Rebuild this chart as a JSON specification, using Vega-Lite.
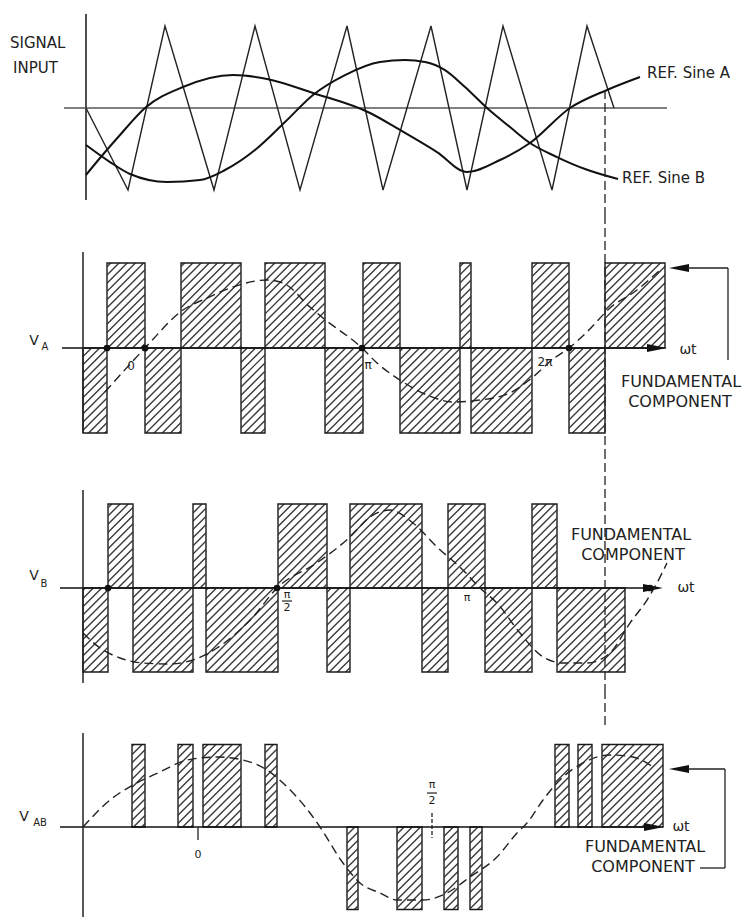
{
"$schema":"https://vega.github.io/schema/vega-lite/v6.json",
"padding":0,
"spacing":0,
"bounds":"flush",
"background":"white",
"config":{"view":{"stroke":null},"axis":{"disable":true},"font":"DejaVu Sans"},
"datasets":{
"carrier":[{"t":86,"s":0},{"t":128,"s":-1},{"t":165,"s":1},{"t":214,"s":-1},{"t":255,"s":1},{"t":300,"s":-1},{"t":347,"s":1},{"t":383,"s":-1},{"t":431,"s":1},{"t":467,"s":-1},{"t":503,"s":1},{"t":552,"s":-1},{"t":587,"s":1},{"t":614,"s":0}],
"refs":[
{"ref":"A","t":86,"s":-0.817},{"ref":"A","t":100,"s":-0.61},{"ref":"A","t":120,"s":-0.329},{"ref":"A","t":145,"s":0},{"ref":"A","t":183,"s":0.256},{"ref":"A","t":233,"s":0.402},{"ref":"A","t":267,"s":0.354},{"ref":"A","t":313,"s":0.183},{"ref":"A","t":370,"s":-0.061},{"ref":"A","t":400,"s":-0.268},{"ref":"A","t":437,"s":-0.537},{"ref":"A","t":467,"s":-0.78},{"ref":"A","t":500,"s":-0.634},{"ref":"A","t":530,"s":-0.427},{"ref":"A","t":570,"s":0},{"ref":"A","t":607,"s":0.22},{"ref":"A","t":640,"s":0.378},
{"ref":"B","t":86,"s":-0.451},{"ref":"B","t":110,"s":-0.659},{"ref":"B","t":130,"s":-0.805},{"ref":"B","t":167,"s":-0.902},{"ref":"B","t":200,"s":-0.878},{"ref":"B","t":225,"s":-0.756},{"ref":"B","t":255,"s":-0.512},{"ref":"B","t":285,"s":-0.171},{"ref":"B","t":313,"s":0.159},{"ref":"B","t":345,"s":0.402},{"ref":"B","t":380,"s":0.561},{"ref":"B","t":405,"s":0.585},{"ref":"B","t":425,"s":0.561},{"ref":"B","t":445,"s":0.463},{"ref":"B","t":465,"s":0.256},{"ref":"B","t":487,"s":0},{"ref":"B","t":510,"s":-0.232},{"ref":"B","t":530,"s":-0.427},{"ref":"B","t":557,"s":-0.598},{"ref":"B","t":585,"s":-0.744},{"ref":"B","t":618,"s":-0.866}],
"lab1":[{"t":10,"s":0.793,"txt":"SIGNAL"},{"t":13,"s":0.488,"txt":"INPUT"},{"t":647,"s":0.427,"txt":"REF. Sine A"},{"t":622,"s":-0.854,"txt":"REF. Sine B"}],
"va":[{"t1":83,"t2":107,"v":-1},{"t1":107,"t2":145,"v":1},{"t1":145,"t2":181,"v":-1},{"t1":181,"t2":241,"v":1},{"t1":241,"t2":265,"v":-1},{"t1":265,"t2":325,"v":1},{"t1":325,"t2":363,"v":-1},{"t1":363,"t2":400,"v":1},{"t1":400,"t2":460,"v":-1},{"t1":460,"t2":471,"v":1},{"t1":471,"t2":532,"v":-1},{"t1":532,"t2":569,"v":1},{"t1":569,"t2":605,"v":-1},{"t1":605,"t2":665,"v":1}],
"vb":[{"t1":83,"t2":108,"v":-1},{"t1":108,"t2":133,"v":1},{"t1":133,"t2":193,"v":-1},{"t1":193,"t2":206,"v":1},{"t1":206,"t2":278,"v":-1},{"t1":278,"t2":327,"v":1},{"t1":327,"t2":350,"v":-1},{"t1":350,"t2":422,"v":1},{"t1":422,"t2":448,"v":-1},{"t1":448,"t2":485,"v":1},{"t1":485,"t2":532,"v":-1},{"t1":532,"t2":557,"v":1},{"t1":557,"t2":625,"v":-1}],
"vab":[{"t1":83,"t2":132,"v":0},{"t1":132,"t2":145,"v":1},{"t1":145,"t2":178,"v":0},{"t1":178,"t2":193,"v":1},{"t1":193,"t2":203,"v":0},{"t1":203,"t2":241,"v":1},{"t1":241,"t2":265,"v":0},{"t1":265,"t2":277,"v":1},{"t1":277,"t2":347,"v":0},{"t1":347,"t2":358,"v":-1},{"t1":358,"t2":397,"v":0},{"t1":397,"t2":422,"v":-1},{"t1":422,"t2":444,"v":0},{"t1":444,"t2":458,"v":-1},{"t1":458,"t2":470,"v":0},{"t1":470,"t2":482,"v":-1},{"t1":482,"t2":555,"v":0},{"t1":555,"t2":569,"v":1},{"t1":569,"t2":578,"v":0},{"t1":578,"t2":592,"v":1},{"t1":592,"t2":602,"v":0},{"t1":602,"t2":663,"v":1}],
"fa":[{"t":105,"s":-0.518},{"t":145,"s":0},{"t":183,"s":0.447},{"t":207,"s":0.588},{"t":233,"s":0.718},{"t":267,"s":0.8},{"t":283,"s":0.765},{"t":310,"s":0.482},{"t":323,"s":0.353},{"t":362,"s":0},{"t":377,"s":-0.176},{"t":403,"s":-0.4},{"t":427,"s":-0.553},{"t":453,"s":-0.635},{"t":480,"s":-0.612},{"t":510,"s":-0.529},{"t":533,"s":-0.341},{"t":553,"s":-0.13},{"t":569,"s":0},{"t":587,"s":0.188},{"t":610,"s":0.471},{"t":637,"s":0.682},{"t":660,"s":0.918}],
"fb":[{"t":83,"s":-0.536},{"t":100,"s":-0.714},{"t":120,"s":-0.833},{"t":143,"s":-0.893},{"t":168,"s":-0.905},{"t":193,"s":-0.857},{"t":217,"s":-0.714},{"t":253,"s":-0.345},{"t":277,"s":0},{"t":317,"s":0.3},{"t":350,"s":0.607},{"t":370,"s":0.845},{"t":390,"s":0.929},{"t":413,"s":0.774},{"t":437,"s":0.488},{"t":463,"s":0.214},{"t":480,"s":0},{"t":497,"s":-0.179},{"t":520,"s":-0.536},{"t":543,"s":-0.821},{"t":563,"s":-0.893},{"t":587,"s":-0.893},{"t":610,"s":-0.774},{"t":630,"s":-0.417},{"t":647,"s":-0.143},{"t":657,"s":0.06},{"t":667,"s":0.298}],
"fab":[{"t":83,"s":0},{"t":110,"s":0.327},{"t":133,"s":0.509},{"t":160,"s":0.667},{"t":187,"s":0.812},{"t":217,"s":0.848},{"t":243,"s":0.812},{"t":267,"s":0.691},{"t":283,"s":0.533},{"t":310,"s":0.17},{"t":320,"s":0},{"t":343,"s":-0.436},{"t":360,"s":-0.679},{"t":380,"s":-0.8},{"t":397,"s":-0.885},{"t":423,"s":-0.885},{"t":447,"s":-0.8},{"t":470,"s":-0.606},{"t":497,"s":-0.364},{"t":517,"s":-0.073},{"t":527,"s":0.048},{"t":543,"s":0.327},{"t":563,"s":0.606},{"t":583,"s":0.776},{"t":610,"s":0.873},{"t":633,"s":0.848},{"t":653,"s":0.727}],
"da":[{"t":107},{"t":145},{"t":362},{"t":569}],
"db":[{"t":108},{"t":277},{"t":650}],
"lab2":[{"t":34,"s":0.082,"txt":"V","k":"n"},{"t":45,"s":0.012,"txt":"A","k":"s"},{"t":131,"s":-0.212,"txt":"0","k":"t"},{"t":368,"s":-0.2,"txt":"π","k":"t"},{"t":545,"s":-0.165,"txt":"2π","k":"t"},{"t":688,"s":-0.024,"txt":"ωt","k":"n"},{"t":681,"s":-0.4,"txt":"FUNDAMENTAL","k":"f"},{"t":680,"s":-0.635,"txt":"COMPONENT","k":"f"}],
"lab3":[{"t":34,"s":0.143,"txt":"V","k":"n"},{"t":44,"s":0.048,"txt":"B","k":"s"},{"t":287,"s":-0.083,"txt":"π","k":"t"},{"t":287,"s":-0.238,"txt":"2","k":"t"},{"t":467,"s":-0.119,"txt":"π","k":"t"},{"t":686,"s":0,"txt":"ωt","k":"n"},{"t":631,"s":0.631,"txt":"FUNDAMENTAL","k":"f"},{"t":633,"s":0.393,"txt":"COMPONENT","k":"f"}],
"lab4":[{"t":24,"s":0.121,"txt":"V","k":"n"},{"t":40,"s":0.048,"txt":"AB","k":"s"},{"t":198,"s":-0.339,"txt":"0","k":"t"},{"t":432,"s":0.509,"txt":"π","k":"t"},{"t":432,"s":0.315,"txt":"2","k":"t"},{"t":681,"s":0,"txt":"ωt","k":"n"},{"t":645,"s":-0.242,"txt":"FUNDAMENTAL","k":"f"},{"t":643,"s":-0.485,"txt":"COMPONENT","k":"f"}]
},
"vconcat":[
{"width":747,"height":215,"layer":[
{"data":{"values":[{}]},"mark":{"type":"rule","color":"#222","strokeWidth":1.6},"encoding":{"x":{"datum":86,"scale":{"domain":[0,747]}},"y":{"datum":1.146,"scale":{"domain":[-1.3049,1.3171]}},"y2":{"datum":-1.122}}},
{"data":{"values":[{}]},"mark":{"type":"rule","color":"#555","strokeWidth":1.4},"encoding":{"x":{"datum":64,"scale":{"domain":[0,747]}},"x2":{"datum":667},"y":{"datum":0,"scale":{"domain":[-1.3049,1.3171]}}}},
{"data":{"name":"carrier"},"mark":{"type":"line","color":"#222","strokeWidth":1.4},"encoding":{"x":{"field":"t","type":"quantitative","scale":{"domain":[0,747]}},"y":{"field":"s","type":"quantitative","scale":{"domain":[-1.3049,1.3171]}}}},
{"data":{"name":"refs"},"mark":{"type":"line","color":"#111","strokeWidth":2,"interpolate":"monotone"},"encoding":{"x":{"field":"t","type":"quantitative","scale":{"domain":[0,747]}},"y":{"field":"s","type":"quantitative","scale":{"domain":[-1.3049,1.3171]}},"detail":{"field":"ref"}}},
{"data":{"values":[{}]},"mark":{"type":"rule","color":"#222","strokeWidth":1.3,"strokeDash":[9,4]},"encoding":{"x":{"datum":605,"scale":{"domain":[0,747]}},"y":{"datum":0.22,"scale":{"domain":[-1.3049,1.3171]}},"y2":{"datum":-1.3049}}},
{"data":{"name":"lab1"},"mark":{"type":"text","align":"left","baseline":"middle","fontSize":15,"color":"#222"},"encoding":{"x":{"field":"t","type":"quantitative","scale":{"domain":[0,747]}},"y":{"field":"s","type":"quantitative","scale":{"domain":[-1.3049,1.3171]}},"text":{"field":"txt"}}}
]},
{"width":747,"height":235,"layer":[
{"data":{"values":[{}]},"mark":{"type":"rule","color":"#3a3a3a","strokeWidth":540,"strokeDash":[1.4,4.4],"strokeCap":"butt","clip":true},"encoding":{"x":{"datum":183,"scale":{"domain":[0,747]}},"x2":{"datum":565},"y":{"datum":2.247,"scale":{"domain":[-1.2,1.5647]}},"y2":{"datum":-2.247}}},
{"data":{"values":[{}]},"mark":{"type":"rect","fillOpacity":0,"stroke":"white","strokeWidth":400,"clip":true},"encoding":{"x":{"datum":-117,"scale":{"domain":[0,747]}},"x2":{"datum":865},"y":{"datum":3.353,"scale":{"domain":[-1.2,1.5647]}},"y2":{"datum":-3.353}}},
{"data":{"name":"va"},"transform":[{"filter":"datum.v >= 0"}],"mark":{"type":"rect","color":"white","stroke":"white","strokeWidth":0.6},"encoding":{"x":{"field":"t1","type":"quantitative","scale":{"domain":[0,747]}},"x2":{"field":"t2"},"y":{"datum":0,"scale":{"domain":[-1.2,1.5647]}},"y2":{"datum":-1.04}}},
{"data":{"name":"va"},"transform":[{"filter":"datum.v <= 0"}],"mark":{"type":"rect","color":"white","stroke":"white","strokeWidth":0.6},"encoding":{"x":{"field":"t1","type":"quantitative","scale":{"domain":[0,747]}},"x2":{"field":"t2"},"y":{"datum":0,"scale":{"domain":[-1.2,1.5647]}},"y2":{"datum":1.04}}},
{"data":{"name":"va"},"transform":[{"filter":"datum.v != 0"}],"mark":{"type":"rect","fillOpacity":0,"stroke":"#1a1a1a","strokeWidth":1.4},"encoding":{"x":{"field":"t1","type":"quantitative","scale":{"domain":[0,747]}},"x2":{"field":"t2"},"y":{"field":"v","type":"quantitative","scale":{"domain":[-1.2,1.5647]}},"y2":{"datum":0}}},
{"data":{"values":[{}]},"mark":{"type":"rule","color":"#111","strokeWidth":1.7},"encoding":{"x":{"datum":62,"scale":{"domain":[0,747]}},"x2":{"datum":660},"y":{"datum":0,"scale":{"domain":[-1.2,1.5647]}}}},
{"data":{"values":[{}]},"mark":{"type":"rule","color":"#222","strokeWidth":1.5},"encoding":{"x":{"datum":83,"scale":{"domain":[0,747]}},"y":{"datum":1.129,"scale":{"domain":[-1.2,1.5647]}},"y2":{"datum":-1}}},
{"data":{"values":[{}]},"mark":{"type":"point","shape":"M-1,-0.4L1,0L-1,0.4Z","filled":true,"size":400,"color":"#111","opacity":1},"encoding":{"x":{"datum":657,"scale":{"domain":[0,747]}},"y":{"datum":0,"scale":{"domain":[-1.2,1.5647]}}}},
{"data":{"name":"fa"},"mark":{"type":"line","color":"#222","strokeWidth":1.4,"strokeDash":[9,5],"interpolate":"monotone"},"encoding":{"x":{"field":"t","type":"quantitative","scale":{"domain":[0,747]}},"y":{"field":"s","type":"quantitative","scale":{"domain":[-1.2,1.5647]}}}},
{"data":{"name":"da"},"mark":{"type":"point","filled":true,"size":45,"color":"#111","opacity":1},"encoding":{"x":{"field":"t","type":"quantitative","scale":{"domain":[0,747]}},"y":{"datum":0,"scale":{"domain":[-1.2,1.5647]}}}},
{"data":{"values":[{}]},"mark":{"type":"rule","color":"#222","strokeWidth":1.3,"strokeDash":[9,4]},"encoding":{"x":{"datum":605,"scale":{"domain":[0,747]}},"y":{"datum":1.5647,"scale":{"domain":[-1.2,1.5647]}},"y2":{"datum":-1.2}}},
{"data":{"values":[{}]},"mark":{"type":"point","shape":"M1,-0.4L-1,0L1,0.4Z","filled":true,"size":400,"color":"#111","opacity":1},"encoding":{"x":{"datum":679,"scale":{"domain":[0,747]}},"y":{"datum":0.941,"scale":{"domain":[-1.2,1.5647]}}}},
{"data":{"values":[{}]},"mark":{"type":"rule","color":"#222","strokeWidth":1.3},"encoding":{"x":{"datum":688,"scale":{"domain":[0,747]}},"x2":{"datum":728},"y":{"datum":0.941,"scale":{"domain":[-1.2,1.5647]}}}},
{"data":{"values":[{}]},"mark":{"type":"rule","color":"#222","strokeWidth":1.3},"encoding":{"x":{"datum":728,"scale":{"domain":[0,747]}},"y":{"datum":0.941,"scale":{"domain":[-1.2,1.5647]}},"y2":{"datum":-0.141}}},
{"data":{"name":"lab2"},"transform":[{"filter":"datum.k == 'n'"}],"mark":{"type":"text","baseline":"middle","fontSize":14,"color":"#222"},"encoding":{"x":{"field":"t","type":"quantitative","scale":{"domain":[0,747]}},"y":{"field":"s","type":"quantitative","scale":{"domain":[-1.2,1.5647]}},"text":{"field":"txt"}}},
{"data":{"name":"lab2"},"transform":[{"filter":"datum.k == 's'"}],"mark":{"type":"text","baseline":"middle","fontSize":10,"color":"#222"},"encoding":{"x":{"field":"t","type":"quantitative","scale":{"domain":[0,747]}},"y":{"field":"s","type":"quantitative","scale":{"domain":[-1.2,1.5647]}},"text":{"field":"txt"}}},
{"data":{"name":"lab2"},"transform":[{"filter":"datum.k == 't'"}],"mark":{"type":"text","baseline":"middle","fontSize":12,"color":"#222"},"encoding":{"x":{"field":"t","type":"quantitative","scale":{"domain":[0,747]}},"y":{"field":"s","type":"quantitative","scale":{"domain":[-1.2,1.5647]}},"text":{"field":"txt"}}},
{"data":{"name":"lab2"},"transform":[{"filter":"datum.k == 'f'"}],"mark":{"type":"text","baseline":"middle","fontSize":16,"color":"#222"},"encoding":{"x":{"field":"t","type":"quantitative","scale":{"domain":[0,747]}},"y":{"field":"s","type":"quantitative","scale":{"domain":[-1.2,1.5647]}},"text":{"field":"txt"}}}
]},
{"width":747,"height":240,"layer":[
{"data":{"values":[{}]},"mark":{"type":"rule","color":"#3a3a3a","strokeWidth":520,"strokeDash":[1.4,4.4],"strokeCap":"butt","clip":true},"encoding":{"x":{"datum":174,"scale":{"domain":[0,747]}},"x2":{"datum":534},"y":{"datum":2.143,"scale":{"domain":[-1.2143,1.6429]}},"y2":{"datum":-2.143}}},
{"data":{"values":[{}]},"mark":{"type":"rect","fillOpacity":0,"stroke":"white","strokeWidth":400,"clip":true},"encoding":{"x":{"datum":-117,"scale":{"domain":[0,747]}},"x2":{"datum":825},"y":{"datum":3.381,"scale":{"domain":[-1.2143,1.6429]}},"y2":{"datum":-3.381}}},
{"data":{"name":"vb"},"transform":[{"filter":"datum.v >= 0"}],"mark":{"type":"rect","color":"white","stroke":"white","strokeWidth":0.6},"encoding":{"x":{"field":"t1","type":"quantitative","scale":{"domain":[0,747]}},"x2":{"field":"t2"},"y":{"datum":0,"scale":{"domain":[-1.2143,1.6429]}},"y2":{"datum":-1.04}}},
{"data":{"name":"vb"},"transform":[{"filter":"datum.v <= 0"}],"mark":{"type":"rect","color":"white","stroke":"white","strokeWidth":0.6},"encoding":{"x":{"field":"t1","type":"quantitative","scale":{"domain":[0,747]}},"x2":{"field":"t2"},"y":{"datum":0,"scale":{"domain":[-1.2143,1.6429]}},"y2":{"datum":1.04}}},
{"data":{"name":"vb"},"transform":[{"filter":"datum.v != 0"}],"mark":{"type":"rect","fillOpacity":0,"stroke":"#1a1a1a","strokeWidth":1.4},"encoding":{"x":{"field":"t1","type":"quantitative","scale":{"domain":[0,747]}},"x2":{"field":"t2"},"y":{"field":"v","type":"quantitative","scale":{"domain":[-1.2143,1.6429]}},"y2":{"datum":0}}},
{"data":{"values":[{}]},"mark":{"type":"rule","color":"#111","strokeWidth":1.7},"encoding":{"x":{"datum":60,"scale":{"domain":[0,747]}},"x2":{"datum":655},"y":{"datum":0,"scale":{"domain":[-1.2143,1.6429]}}}},
{"data":{"values":[{}]},"mark":{"type":"rule","color":"#222","strokeWidth":1.5},"encoding":{"x":{"datum":83,"scale":{"domain":[0,747]}},"y":{"datum":1.167,"scale":{"domain":[-1.2143,1.6429]}},"y2":{"datum":-1.131}}},
{"data":{"values":[{}]},"mark":{"type":"point","shape":"M-1,-0.4L1,0L-1,0.4Z","filled":true,"size":400,"color":"#111","opacity":1},"encoding":{"x":{"datum":653,"scale":{"domain":[0,747]}},"y":{"datum":0,"scale":{"domain":[-1.2143,1.6429]}}}},
{"data":{"name":"fb"},"mark":{"type":"line","color":"#222","strokeWidth":1.4,"strokeDash":[9,5],"interpolate":"monotone"},"encoding":{"x":{"field":"t","type":"quantitative","scale":{"domain":[0,747]}},"y":{"field":"s","type":"quantitative","scale":{"domain":[-1.2143,1.6429]}}}},
{"data":{"name":"db"},"mark":{"type":"point","filled":true,"size":45,"color":"#111","opacity":1},"encoding":{"x":{"field":"t","type":"quantitative","scale":{"domain":[0,747]}},"y":{"datum":0,"scale":{"domain":[-1.2143,1.6429]}}}},
{"data":{"values":[{}]},"mark":{"type":"rule","color":"#222","strokeWidth":1.3,"strokeDash":[9,4]},"encoding":{"x":{"datum":605,"scale":{"domain":[0,747]}},"y":{"datum":1.6429,"scale":{"domain":[-1.2143,1.6429]}},"y2":{"datum":-1.2143}}},
{"data":{"values":[{}]},"mark":{"type":"rule","color":"#222","strokeWidth":1.2},"encoding":{"x":{"datum":282,"scale":{"domain":[0,747]}},"x2":{"datum":292},"y":{"datum":-0.155,"scale":{"domain":[-1.2143,1.6429]}}}},
{"data":{"name":"lab3"},"transform":[{"filter":"datum.k == 'n'"}],"mark":{"type":"text","baseline":"middle","fontSize":14,"color":"#222"},"encoding":{"x":{"field":"t","type":"quantitative","scale":{"domain":[0,747]}},"y":{"field":"s","type":"quantitative","scale":{"domain":[-1.2143,1.6429]}},"text":{"field":"txt"}}},
{"data":{"name":"lab3"},"transform":[{"filter":"datum.k == 's'"}],"mark":{"type":"text","baseline":"middle","fontSize":10,"color":"#222"},"encoding":{"x":{"field":"t","type":"quantitative","scale":{"domain":[0,747]}},"y":{"field":"s","type":"quantitative","scale":{"domain":[-1.2143,1.6429]}},"text":{"field":"txt"}}},
{"data":{"name":"lab3"},"transform":[{"filter":"datum.k == 't'"}],"mark":{"type":"text","baseline":"middle","fontSize":11,"color":"#222"},"encoding":{"x":{"field":"t","type":"quantitative","scale":{"domain":[0,747]}},"y":{"field":"s","type":"quantitative","scale":{"domain":[-1.2143,1.6429]}},"text":{"field":"txt"}}},
{"data":{"name":"lab3"},"transform":[{"filter":"datum.k == 'f'"}],"mark":{"type":"text","baseline":"middle","fontSize":16,"color":"#222"},"encoding":{"x":{"field":"t","type":"quantitative","scale":{"domain":[0,747]}},"y":{"field":"s","type":"quantitative","scale":{"domain":[-1.2143,1.6429]}},"text":{"field":"txt"}}}
]},
{"width":747,"height":227,"layer":[
{"data":{"values":[{}]},"mark":{"type":"rule","color":"#3a3a3a","strokeWidth":540,"strokeDash":[1.4,4.4],"strokeCap":"butt","clip":true},"encoding":{"x":{"datum":183,"scale":{"domain":[0,747]}},"x2":{"datum":563},"y":{"datum":2.303,"scale":{"domain":[-1.0909,1.6606]}},"y2":{"datum":-2.303}}},
{"data":{"values":[{}]},"mark":{"type":"rect","fillOpacity":0,"stroke":"white","strokeWidth":400,"clip":true},"encoding":{"x":{"datum":-117,"scale":{"domain":[0,747]}},"x2":{"datum":863},"y":{"datum":3.424,"scale":{"domain":[-1.0909,1.6606]}},"y2":{"datum":-3.424}}},
{"data":{"name":"vab"},"transform":[{"filter":"datum.v >= 0"}],"mark":{"type":"rect","color":"white","stroke":"white","strokeWidth":0.6},"encoding":{"x":{"field":"t1","type":"quantitative","scale":{"domain":[0,747]}},"x2":{"field":"t2"},"y":{"datum":0,"scale":{"domain":[-1.0909,1.6606]}},"y2":{"datum":-1.04}}},
{"data":{"name":"vab"},"transform":[{"filter":"datum.v <= 0"}],"mark":{"type":"rect","color":"white","stroke":"white","strokeWidth":0.6},"encoding":{"x":{"field":"t1","type":"quantitative","scale":{"domain":[0,747]}},"x2":{"field":"t2"},"y":{"datum":0,"scale":{"domain":[-1.0909,1.6606]}},"y2":{"datum":1.04}}},
{"data":{"name":"vab"},"transform":[{"filter":"datum.v != 0"}],"mark":{"type":"rect","fillOpacity":0,"stroke":"#1a1a1a","strokeWidth":1.4},"encoding":{"x":{"field":"t1","type":"quantitative","scale":{"domain":[0,747]}},"x2":{"field":"t2"},"y":{"field":"v","type":"quantitative","scale":{"domain":[-1.0909,1.6606]}},"y2":{"datum":0}}},
{"data":{"values":[{}]},"mark":{"type":"rule","color":"#111","strokeWidth":1.7},"encoding":{"x":{"datum":60,"scale":{"domain":[0,747]}},"x2":{"datum":655},"y":{"datum":0,"scale":{"domain":[-1.0909,1.6606]}}}},
{"data":{"values":[{}]},"mark":{"type":"rule","color":"#222","strokeWidth":1.5},"encoding":{"x":{"datum":83,"scale":{"domain":[0,747]}},"y":{"datum":1.139,"scale":{"domain":[-1.0909,1.6606]}},"y2":{"datum":-1.0909}}},
{"data":{"values":[{}]},"mark":{"type":"point","shape":"M-1,-0.4L1,0L-1,0.4Z","filled":true,"size":400,"color":"#111","opacity":1},"encoding":{"x":{"datum":654,"scale":{"domain":[0,747]}},"y":{"datum":0,"scale":{"domain":[-1.0909,1.6606]}}}},
{"data":{"name":"fab"},"mark":{"type":"line","color":"#222","strokeWidth":1.4,"strokeDash":[9,5],"interpolate":"monotone"},"encoding":{"x":{"field":"t","type":"quantitative","scale":{"domain":[0,747]}},"y":{"field":"s","type":"quantitative","scale":{"domain":[-1.0909,1.6606]}}}},
{"data":{"values":[{}]},"mark":{"type":"rule","color":"#222","strokeWidth":1.3,"strokeDash":[9,4]},"encoding":{"x":{"datum":605,"scale":{"domain":[0,747]}},"y":{"datum":1.6606,"scale":{"domain":[-1.0909,1.6606]}},"y2":{"datum":1.2}}},
{"data":{"values":[{}]},"mark":{"type":"rule","color":"#222","strokeWidth":1.3},"encoding":{"x":{"datum":198,"scale":{"domain":[0,747]}},"y":{"datum":0,"scale":{"domain":[-1.0909,1.6606]}},"y2":{"datum":-0.158}}},
{"data":{"values":[{}]},"mark":{"type":"rule","color":"#222","strokeWidth":1.3,"strokeDash":[4,2]},"encoding":{"x":{"datum":432,"scale":{"domain":[0,747]}},"y":{"datum":0.17,"scale":{"domain":[-1.0909,1.6606]}},"y2":{"datum":-0.133}}},
{"data":{"values":[{}]},"mark":{"type":"rule","color":"#222","strokeWidth":1.2},"encoding":{"x":{"datum":427,"scale":{"domain":[0,747]}},"x2":{"datum":437},"y":{"datum":0.412,"scale":{"domain":[-1.0909,1.6606]}}}},
{"data":{"values":[{}]},"mark":{"type":"point","shape":"M1,-0.4L-1,0L1,0.4Z","filled":true,"size":400,"color":"#111","opacity":1},"encoding":{"x":{"datum":679,"scale":{"domain":[0,747]}},"y":{"datum":0.703,"scale":{"domain":[-1.0909,1.6606]}}}},
{"data":{"values":[{}]},"mark":{"type":"rule","color":"#222","strokeWidth":1.3},"encoding":{"x":{"datum":688,"scale":{"domain":[0,747]}},"x2":{"datum":725},"y":{"datum":0.703,"scale":{"domain":[-1.0909,1.6606]}}}},
{"data":{"values":[{}]},"mark":{"type":"rule","color":"#222","strokeWidth":1.3},"encoding":{"x":{"datum":725,"scale":{"domain":[0,747]}},"y":{"datum":0.703,"scale":{"domain":[-1.0909,1.6606]}},"y2":{"datum":-0.497}}},
{"data":{"values":[{}]},"mark":{"type":"rule","color":"#222","strokeWidth":1.3},"encoding":{"x":{"datum":700,"scale":{"domain":[0,747]}},"x2":{"datum":725},"y":{"datum":-0.497,"scale":{"domain":[-1.0909,1.6606]}}}},
{"data":{"name":"lab4"},"transform":[{"filter":"datum.k == 'n'"}],"mark":{"type":"text","baseline":"middle","fontSize":14,"color":"#222"},"encoding":{"x":{"field":"t","type":"quantitative","scale":{"domain":[0,747]}},"y":{"field":"s","type":"quantitative","scale":{"domain":[-1.0909,1.6606]}},"text":{"field":"txt"}}},
{"data":{"name":"lab4"},"transform":[{"filter":"datum.k == 's'"}],"mark":{"type":"text","baseline":"middle","fontSize":10,"color":"#222"},"encoding":{"x":{"field":"t","type":"quantitative","scale":{"domain":[0,747]}},"y":{"field":"s","type":"quantitative","scale":{"domain":[-1.0909,1.6606]}},"text":{"field":"txt"}}},
{"data":{"name":"lab4"},"transform":[{"filter":"datum.k == 't'"}],"mark":{"type":"text","baseline":"middle","fontSize":11,"color":"#222"},"encoding":{"x":{"field":"t","type":"quantitative","scale":{"domain":[0,747]}},"y":{"field":"s","type":"quantitative","scale":{"domain":[-1.0909,1.6606]}},"text":{"field":"txt"}}},
{"data":{"name":"lab4"},"transform":[{"filter":"datum.k == 'f'"}],"mark":{"type":"text","baseline":"middle","fontSize":16,"color":"#222"},"encoding":{"x":{"field":"t","type":"quantitative","scale":{"domain":[0,747]}},"y":{"field":"s","type":"quantitative","scale":{"domain":[-1.0909,1.6606]}},"text":{"field":"txt"}}}
]}
]
}
